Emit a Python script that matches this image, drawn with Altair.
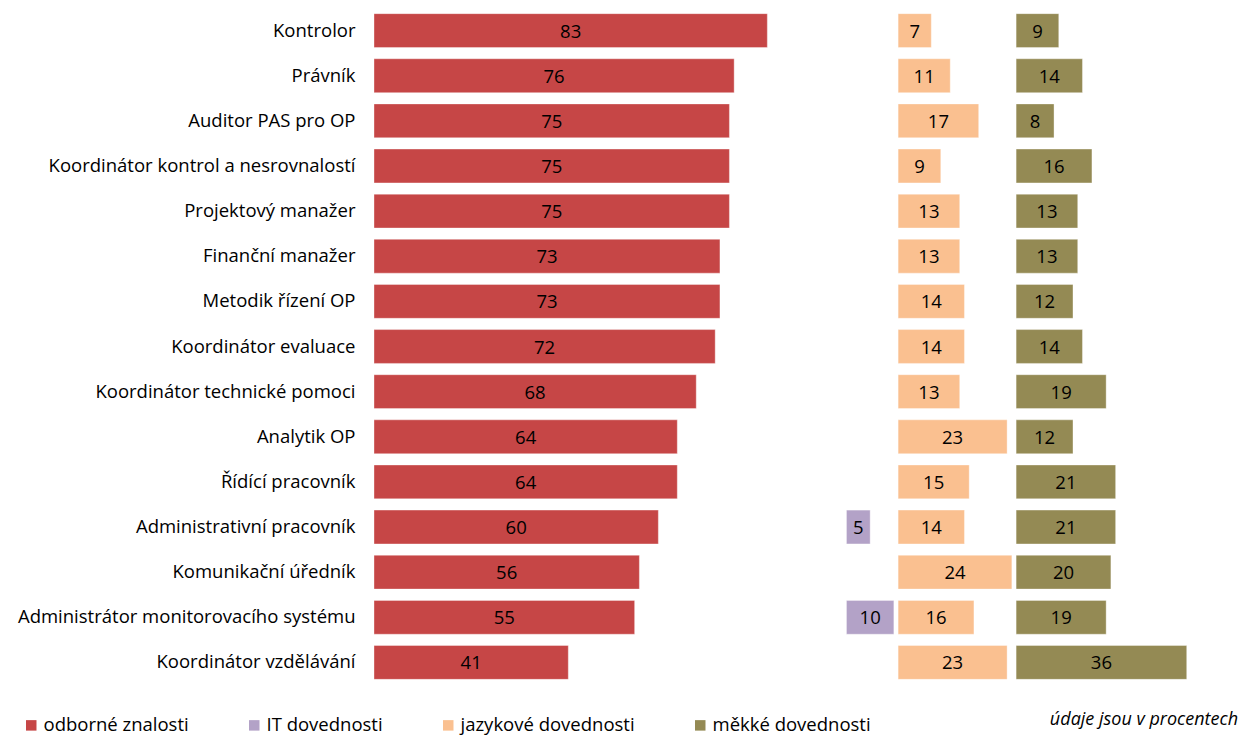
import altair as alt
import pandas as pd

categories = [
    "Kontrolor", "Právník", "Auditor PAS pro OP", "Koordinátor kontrol a nesrovnalostí",
    "Projektový manažer", "Finanční manažer", "Metodik řízení OP", "Koordinátor evaluace",
    "Koordinátor technické pomoci", "Analytik OP", "Řídící pracovník",
    "Administrativní pracovník", "Komunikační úředník",
    "Administrátor monitorovacího systému", "Koordinátor vzdělávání",
]
odborne = [83, 76, 75, 75, 75, 73, 73, 72, 68, 64, 64, 60, 56, 55, 41]
it_dov = [None, None, None, None, None, None, None, None, None, None, None, 5, None, 10, None]
jazykove = [7, 11, 17, 9, 13, 13, 14, 14, 13, 23, 15, 14, 24, 16, 23]
mekke = [9, 14, 8, 16, 13, 13, 12, 14, 19, 12, 21, 21, 20, 19, 36]

series_names = ["odborné znalosti", "IT dovednosti", "jazykové dovednosti", "měkké dovednosti"]
series_values = [odborne, it_dov, jazykove, mekke]
series_colors = ["#C64646", "#B3A2C7", "#FAC090", "#948A54"]
# layout: where each panel's bars begin on the shared x scale
series_offsets = [0, 99.7, 110.6, 135.5]

rows = []
for name, vals, off in zip(series_names, series_values, series_offsets):
    for cat, v in zip(categories, vals):
        if v is None:
            continue
        rows.append({"cat": cat, "series": name, "value": v, "start": off})
df = pd.DataFrame(rows)

FONT = "Open Sans"
x_scale = alt.Scale(domain=[0, 180], nice=False, zero=False)
y_enc = alt.Y("cat:N", sort=categories, title=None,
              scale=alt.Scale(paddingInner=0.25, paddingOuter=0.125),
              axis=alt.Axis(domain=False, ticks=False, labelFontSize=18.5, labelFont=FONT,
                            labelColor="#000000", labelPadding=19, labelLimit=400))

base = alt.Chart(df).transform_calculate(
    end="datum.start + datum.value", mid="datum.start + datum.value / 2"
)

bars = base.mark_bar(stroke="#ffffff", strokeWidth=0.6, strokeOpacity=0.6).encode(
    x=alt.X("start:Q", scale=x_scale, axis=None),
    x2="end:Q",
    y=y_enc,
    color=alt.Color("series:N", sort=series_names,
                    scale=alt.Scale(domain=series_names, range=series_colors),
                    legend=alt.Legend(title=None, orient="none", direction="horizontal",
                                      legendX=-352, legendY=708, padding=0,
                                      symbolType="square", symbolSize=110,
                                      symbolStrokeWidth=0, labelLimit=400,
                                      labelFont=FONT, labelFontSize=18.5, labelColor="#000000",
                                      labelOffset=3, columnPadding=56)),
)

labels = base.mark_text(font=FONT, fontSize=18.5, color="#000000", baseline="middle", dy=1).encode(
    x=alt.X("mid:Q", scale=x_scale),
    y=alt.Y("cat:N", sort=categories),
    text=alt.Text("value:Q", format="d"),
)

note = alt.Chart(pd.DataFrame({"t": ["údaje jsou v procentech"]})).mark_text(
    font=FONT, fontSize=18, fontStyle="italic", align="right", baseline="middle", color="#000000"
).encode(x=alt.value(864), y=alt.value(712), text="t:N")

chart = alt.layer(bars, labels, note).properties(
    width=853, height=677,
    autosize=alt.AutoSizeParams(type="none"),
    padding={"left": 366, "top": 0, "right": 13, "bottom": 52},
).configure_view(stroke=None)

chart.save("out.html", embed_options={"renderer": "svg", "actions": False})
